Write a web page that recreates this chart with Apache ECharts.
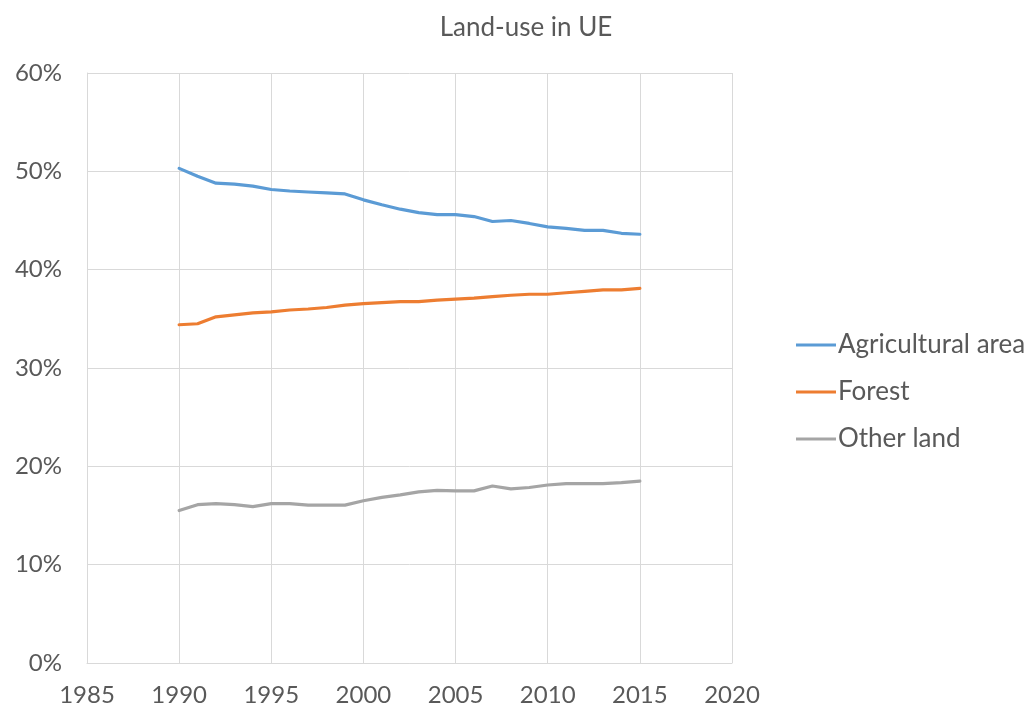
<!DOCTYPE html>
<html>
<head>
<meta charset="utf-8">
<title>Land-use in UE</title>
<script src="https://cdn.jsdelivr.net/npm/echarts@6/dist/echarts.min.js"></script>
<style>
  html, body { margin: 0; padding: 0; background: #ffffff; }
  #chart { width: 1036px; height: 715px; }
</style>
</head>
<body>
<div id="chart"></div>
<script>
// Share of total land area by use, percent
const years = [1990, 1991, 1992, 1993, 1994, 1995, 1996, 1997, 1998, 1999, 2000, 2001, 2002,
  2003, 2004, 2005, 2006, 2007, 2008, 2009, 2010, 2011, 2012, 2013, 2014, 2015];
const agricultural = [50.3, 49.5, 48.8, 48.7, 48.5, 48.15, 48.0, 47.9, 47.8, 47.7, 47.1, 46.6, 46.15,
  45.8, 45.6, 45.6, 45.4, 44.9, 45.0, 44.7, 44.35, 44.2, 44.0, 44.0, 43.7, 43.6];
const forest = [34.4, 34.5, 35.2, 35.4, 35.6, 35.7, 35.9, 36.0, 36.15, 36.4, 36.55, 36.65, 36.75,
  36.75, 36.9, 37.0, 37.1, 37.25, 37.4, 37.5, 37.5, 37.65, 37.8, 37.95, 37.95, 38.1];
const otherLand = [15.5, 16.1, 16.2, 16.1, 15.9, 16.2, 16.2, 16.05, 16.05, 16.05, 16.5, 16.85, 17.1,
  17.4, 17.55, 17.5, 17.5, 18.0, 17.7, 17.85, 18.1, 18.25, 18.25, 18.25, 18.35, 18.5];
const seriesNames = ['Agricultural area', 'Forest', 'Other land'];
const colors = ['#5b9bd5', '#ed7d31', '#a5a5a5'];

const pairs = vals => years.map((y, i) => [y, vals[i]]);

const font = 'Lato, "Open Sans", sans-serif';
const textColor = '#595959';
const gridColor = '#d9d9d9';

const chart = echarts.init(document.getElementById('chart'), null, { renderer: 'canvas' });
chart.setOption({
  animation: false,
  backgroundColor: '#ffffff',
  title: {
    text: 'Land-use in UE',
    left: 521,
    textAlign: 'center',
    top: 10,
    textStyle: { fontFamily: font, fontSize: 26, fontWeight: 'normal', color: textColor }
  },
  legend: {
    orient: 'vertical',
    left: 791,
    top: 326,
    itemWidth: 40,
    itemHeight: 3,
    itemGap: 19,
    icon: 'rect',
    textStyle: { fontFamily: font, fontSize: 26, color: textColor, lineHeight: 28, padding: [0, 0, 0, -3] },
    data: seriesNames
  },
  grid: { left: 87, right: 304, top: 73, bottom: 52, containLabel: false },
  xAxis: {
    type: 'value',
    min: 1985,
    max: 2020,
    interval: 5,
    axisLine: { show: true, lineStyle: { color: gridColor, width: 1 } },
    axisTick: { show: false },
    splitLine: { show: true, lineStyle: { color: gridColor, width: 1 } },
    axisLabel: { margin: 20, fontFamily: font, fontSize: 24, color: textColor, formatter: v => String(v) }
  },
  yAxis: {
    type: 'value',
    min: 0,
    max: 60,
    interval: 10,
    axisLine: { show: true, lineStyle: { color: gridColor, width: 1 } },
    axisTick: { show: false },
    splitLine: { show: true, lineStyle: { color: gridColor, width: 1 } },
    axisLabel: { margin: 25, fontFamily: font, fontSize: 24, color: textColor, formatter: '{value}%' }
  },
  series: [agricultural, forest, otherLand].map((vals, i) => ({
    name: seriesNames[i],
    type: 'line',
    data: pairs(vals),
    showSymbol: false,
    symbol: 'none',
    color: colors[i],
    lineStyle: { width: 3.2, color: colors[i], cap: 'round', join: 'round' }
  }))
});
</script>
</body>
</html>
